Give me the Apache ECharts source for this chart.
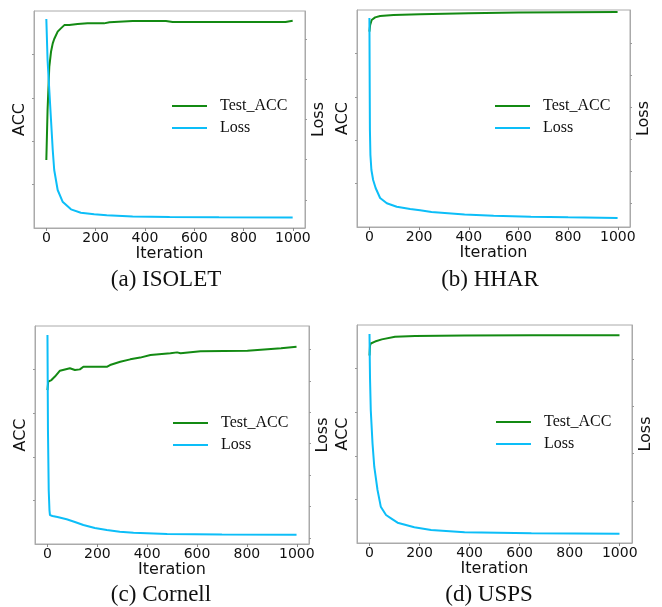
<!DOCTYPE html>
<html lang="en">
<head>
    <meta charset="UTF-8">
    <title>Test ACC / Loss curves</title>
    <script type="text/javascript" src="https://cdn.jsdelivr.net/npm/echarts@6.0.0/dist/echarts.min.js"></script>
    <style>
        html,body{margin:0;padding:0;background:#fff;}
        #main{width:662px;height:607px;}
    </style>
</head>
<body>
<div id="main"></div>
<script type="text/javascript">
    // x ticks shared by all four panels
    var iterTicks = [0, 200, 400, 600, 800, 1000];
    var accTicks = [0.2, 0.4, 0.6, 0.8];

    // (a) ISOLET
    var isoletAccIter = [0, 5, 12, 19, 26, 32, 46, 59, 73, 93, 100, 127, 167, 234, 256, 350, 485, 512, 970, 999];
    var isoletAcc = [0.313, 0.544, 0.743, 0.812, 0.851, 0.871, 0.905, 0.920, 0.935, 0.935, 0.932, 0.940, 0.943, 0.943, 0.948, 0.954, 0.954, 0.949, 0.949, 0.955];
    var isoletLossIter = [0, 5, 12, 19, 26, 32, 46, 66, 100, 140, 194, 245, 350, 500, 700, 999];
    var isoletLoss = [3.249, 2.739, 2.367, 1.994, 1.621, 1.373, 1.124, 0.979, 0.884, 0.842, 0.822, 0.810, 0.795, 0.789, 0.785, 0.783];
    var isoletLossTicks = [1.0, 1.5, 2.0, 2.5, 3.0];

    // (b) HHAR
    var hharAccIter = [0, 3, 9, 23, 43, 97, 204, 400, 600, 999];
    var hharAcc = [0.900, 0.931, 0.954, 0.966, 0.972, 0.977, 0.980, 0.985, 0.988, 0.991];
    var hharLossIter = [0, 1, 2, 4, 8, 15, 25, 43, 70, 110, 164, 204, 250, 383, 500, 650, 800, 999];
    var hharLoss = [1.945, 1.461, 1.070, 0.875, 0.758, 0.680, 0.617, 0.539, 0.498, 0.471, 0.453, 0.443, 0.430, 0.410, 0.401, 0.393, 0.388, 0.383];
    var hharLossTicks = [0.5, 0.75, 1.0, 1.25, 1.5, 1.75];

    // (c) Cornell
    var cornellAccIter = [0, 3, 9, 16, 30, 50, 90, 110, 130, 144, 170, 238, 251, 292, 332, 372, 413, 493, 520, 534, 614, 802, 937, 999];
    var cornellAcc = [0.706, 0.745, 0.745, 0.752, 0.768, 0.795, 0.806, 0.798, 0.801, 0.813, 0.813, 0.813, 0.821, 0.836, 0.847, 0.855, 0.867, 0.875, 0.879, 0.875, 0.884, 0.887, 0.898, 0.905];
    var cornellLossIter = [0, 2, 5, 8, 10, 20, 40, 77, 110, 144, 190, 238, 290, 345, 480, 700, 999];
    var cornellLoss = [1.492, 0.887, 0.506, 0.378, 0.346, 0.340, 0.334, 0.319, 0.302, 0.283, 0.264, 0.251, 0.240, 0.234, 0.225, 0.222, 0.221];
    var cornellLossTicks = [0.2, 0.4, 0.6, 0.8, 1.0, 1.2, 1.4];

    // (d) USPS
    var uspsAccIter = [0, 2, 5, 22, 49, 102, 182, 380, 650, 999];
    var uspsAcc = [0.860, 0.905, 0.915, 0.924, 0.934, 0.946, 0.950, 0.952, 0.953, 0.953];
    var uspsLossIter = [0, 1, 2, 5, 12, 19, 32, 45, 66, 86, 112, 179, 246, 380, 647, 999];
    var uspsLoss = [2.264, 2.0, 1.8, 1.461, 1.109, 0.862, 0.616, 0.440, 0.352, 0.317, 0.271, 0.222, 0.194, 0.169, 0.159, 0.155];
    var uspsLossTicks = [0.5, 1.0, 1.5, 2.0];

    function zip(xs, ys){
        var out = [];
        for(var i=0;i<xs.length;i++){
            out.push([xs[i], ys[i]]);
        }
        return out;
    }

    var panels = [
        {caption:'(a) ISOLET', grid:{left:34, top:11, width:271, height:217}, cap:[166, 268], leg:[172, 98],
         acc:zip(isoletAccIter, isoletAcc), loss:zip(isoletLossIter, isoletLoss), lossMin:0.652, lossMax:3.348, lossTicks:isoletLossTicks},
        {caption:'(b) HHAR', grid:{left:357, top:10, width:273, height:217}, cap:[490, 268], leg:[495, 98],
         acc:zip(hharAccIter, hharAcc), loss:zip(hharLossIter, hharLoss), lossMin:0.3125, lossMax:2.008, lossTicks:hharLossTicks},
        {caption:'(c) Cornell', grid:{left:35, top:326, width:274, height:218}, cap:[161, 583], leg:[173, 415],
         acc:zip(cornellAccIter, cornellAcc), loss:zip(cornellLossIter, cornellLoss), lossMin:0.162, lossMax:1.549, lossTicks:cornellLossTicks},
        {caption:'(d) USPS', grid:{left:357, top:325, width:275, height:218}, cap:[489, 583], leg:[496, 414],
         acc:zip(uspsAccIter, uspsAcc), loss:zip(uspsLossIter, uspsLoss), lossMin:0.0563, lossMax:2.359, lossTicks:uspsLossTicks}
    ];

    var frame = '#aaaaaa';
    var green = '#138a13';
    var cyan = '#0cbef8';
    var sans = 'DejaVu Sans';
    var serif = 'Liberation Serif';
    var lineIcon = 'path://M0,0 L35,0 L35,2 L0,2 Z';

    var grids = [], xAxes = [], yAxes = [], series = [], titles = [], legends = [];
    for(var i=0;i<panels.length;i++){
        var p = panels[i];
        grids.push({left:p.grid.left, top:p.grid.top, width:p.grid.width, height:p.grid.height,
            show:true, borderColor:frame, borderWidth:1, backgroundColor:'transparent'});
        xAxes.push({
            type:'value', gridIndex:i, min:-50, max:1049,
            name:'Iteration', nameLocation:'middle', nameGap:15,
            nameTextStyle:{fontFamily:sans, fontSize:16, color:'#111'},
            axisLine:{show:true, onZero:false, lineStyle:{color:frame}},
            axisTick:{show:true, length:3, customValues:iterTicks, lineStyle:{color:'#888'}},
            axisLabel:{customValues:iterTicks, fontFamily:sans, fontSize:14, color:'#111', margin:3,
                formatter:function(v){ return String(v); }},
            splitLine:{show:false}
        });
        yAxes.push({
            type:'value', gridIndex:i, position:'left', min:0, max:1,
            name:'ACC', nameLocation:'middle', nameGap:6, nameRotate:90,
            nameTextStyle:{fontFamily:sans, fontSize:16, color:'#111'},
            axisLine:{show:true, onZero:false, lineStyle:{color:frame}},
            axisTick:{show:true, length:2, customValues:accTicks, lineStyle:{color:'#999'}},
            axisLabel:{show:false},
            splitLine:{show:false}
        });
        yAxes.push({
            type:'value', gridIndex:i, position:'right', min:p.lossMin, max:p.lossMax,
            name:'Loss', nameLocation:'middle', nameGap:6, nameRotate:90,
            nameTextStyle:{fontFamily:sans, fontSize:16, color:'#111'},
            axisLine:{show:true, onZero:false, lineStyle:{color:frame}},
            axisTick:{show:true, length:2, customValues:p.lossTicks, lineStyle:{color:'#999'}},
            axisLabel:{show:false},
            splitLine:{show:false}
        });
        series.push({
            name:'Test_ACC', type:'line', xAxisIndex:i, yAxisIndex:2*i,
            symbol:'none', smooth:false, animation:false,
            lineStyle:{color:green, width:2}, itemStyle:{color:green},
            data:p.acc
        });
        series.push({
            name:'Loss', type:'line', xAxisIndex:i, yAxisIndex:2*i+1,
            symbol:'none', smooth:false, animation:false,
            lineStyle:{color:cyan, width:2}, itemStyle:{color:cyan},
            data:p.loss
        });
        titles.push({
            text:p.caption, left:p.cap[0], top:p.cap[1], textAlign:'center', padding:0,
            textStyle:{fontFamily:serif, fontSize:23, fontWeight:'normal', color:'#111'}
        });
        legends.push({
            orient:'vertical', left:p.leg[0], top:p.leg[1], padding:0,
            itemWidth:35, itemHeight:14, itemGap:6, selectedMode:false,
            icon:lineIcon,
            data:['Test_ACC', 'Loss'],
            textStyle:{fontFamily:serif, fontSize:16, color:'#111', padding:[0,0,0,8]}
        });
    }

    var myChart = echarts.init(document.getElementById('main'), null, {renderer:'canvas'});
    var option = {
        backgroundColor:'#fff',
        animation:false,
        title:titles,
        legend:legends,
        grid:grids,
        xAxis:xAxes,
        yAxis:yAxes,
        series:series
    };
    myChart.setOption(option);
</script>
</body>
</html>
